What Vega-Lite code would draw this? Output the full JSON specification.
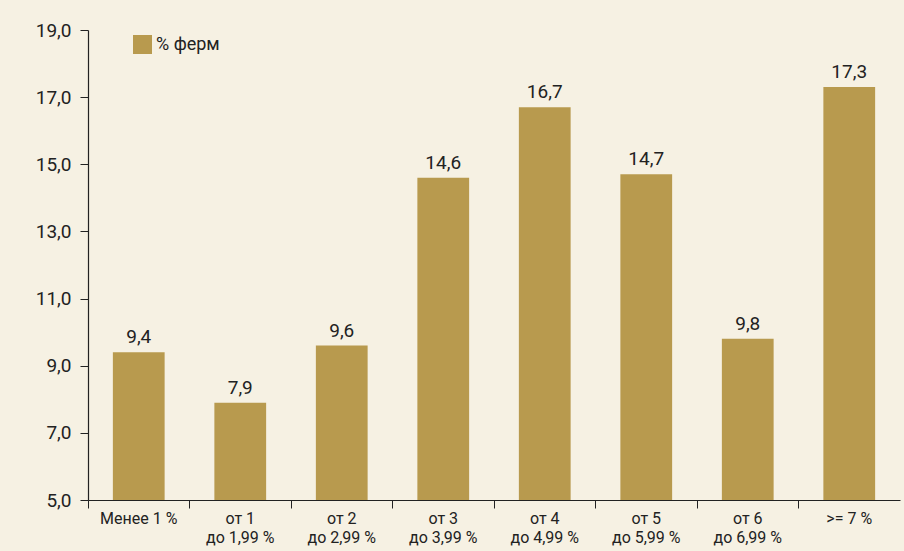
{
  "$schema": "https://vega.github.io/schema/vega-lite/v6.json",
  "width": 812,
  "height": 470,
  "autosize": {"type": "none"},
  "padding": {"left": 88, "top": 30, "right": 4, "bottom": 51},
  "background": "#f6f1e3",
  "config": {
    "view": {"stroke": null},
    "font": "Roboto"
  },
  "data": {
    "values": [
      {"cat": "Менее 1 %", "series": "% ферм", "value": 9.4, "label": "9,4"},
      {"cat": "от 1|до 1,99 %", "series": "% ферм", "value": 7.9, "label": "7,9"},
      {"cat": "от 2|до 2,99 %", "series": "% ферм", "value": 9.6, "label": "9,6"},
      {"cat": "от 3|до 3,99 %", "series": "% ферм", "value": 14.6, "label": "14,6"},
      {"cat": "от 4|до 4,99 %", "series": "% ферм", "value": 16.7, "label": "16,7"},
      {"cat": "от 5|до 5,99 %", "series": "% ферм", "value": 14.7, "label": "14,7"},
      {"cat": "от 6|до 6,99 %", "series": "% ферм", "value": 9.8, "label": "9,8"},
      {"cat": ">= 7 %", "series": "% ферм", "value": 17.3, "label": "17,3"}
    ]
  },
  "encoding": {
    "x": {
      "field": "cat",
      "type": "nominal",
      "sort": null,
      "scale": {"paddingInner": 0, "paddingOuter": 0},
      "axis": {
        "title": null,
        "labelAngle": 0,
        "labelExpr": "split(datum.value, '|')",
        "labelFont": "Roboto",
        "labelFontSize": 16,
        "labelColor": "#222222",
        "labelLineHeight": 19,
        "labelPadding": 2,
        "bandPosition": 0,
        "tickSize": 8,
        "tickColor": "#222222",
        "domainColor": "#222222",
        "domainWidth": 1.2,
        "labelBaseline": "top"
      }
    },
    "y": {
      "field": "value",
      "type": "quantitative",
      "scale": {"domain": [5, 19], "nice": false, "zero": false},
      "axis": {
        "title": null,
        "values": [5, 7, 9, 11, 13, 15, 17, 19],
        "labelExpr": "replace(format(datum.value, '.1f'), '.', ',')",
        "labelFont": "Roboto",
        "labelFontSize": 19,
        "labelColor": "#222222",
        "labelPadding": 9,
        "tickSize": 8,
        "tickColor": "#222222",
        "domainColor": "#222222",
        "domainWidth": 1.2,
        "grid": false
      }
    }
  },
  "layer": [
    {
      "mark": {"type": "bar", "width": {"band": 0.51}, "clip": true},
      "encoding": {
        "y2": {"datum": 5},
        "color": {
          "field": "series",
          "type": "nominal",
          "scale": {"range": ["#b89a4e"]},
          "legend": {
            "title": null,
            "orient": "none",
            "legendX": 45,
            "legendY": 5,
            "symbolType": "square",
            "symbolSize": 360,
            "symbolStrokeWidth": 0,
            "labelFont": "Roboto",
            "labelFontSize": 18,
            "labelColor": "#222222",
            "labelOffset": 4
          }
        }
      }
    },
    {
      "mark": {"type": "text", "dy": -15, "fontSize": 19, "font": "Roboto", "color": "#222222"},
      "encoding": {
        "text": {"field": "label"}
      }
    }
  ]
}
